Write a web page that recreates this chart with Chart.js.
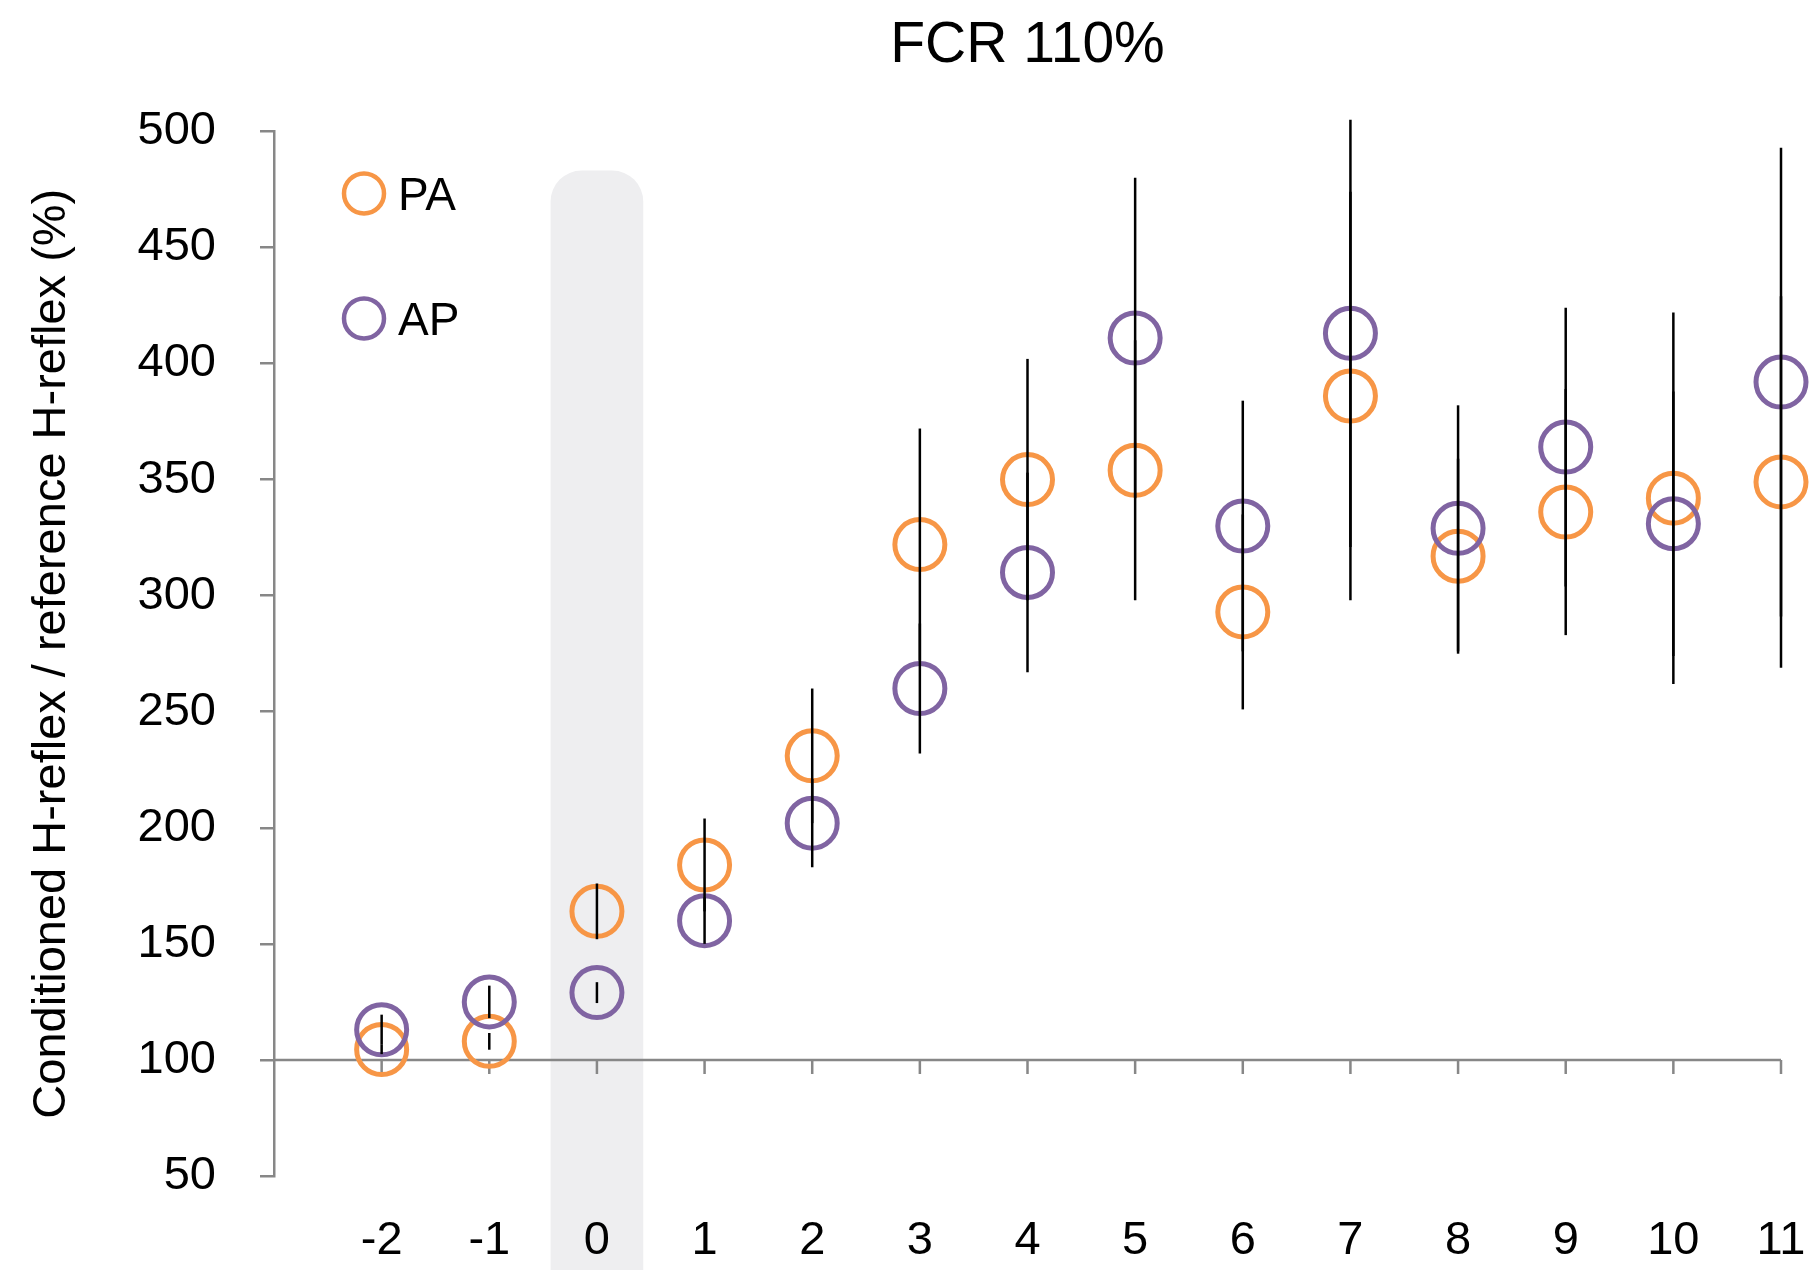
<!DOCTYPE html>
<html>
<head>
<meta charset="utf-8">
<title>FCR 110%</title>
<script src="https://cdn.jsdelivr.net/npm/chart.js@4.4.1/dist/chart.umd.min.js"></script>
<style>
  html, body { margin:0; padding:0; background:#fff; }
  #wrap { width:1816px; height:1270px; position:relative; }
</style>
</head>
<body>
<div id="wrap"><canvas id="chart"></canvas></div>
<script>
/* ---------- DATA ---------- */
const TITLE = "FCR 110%";
const Y_TITLE = "Conditioned H-reflex / reference H-reflex (%)";
const SERIES_NAMES = ["PA", "AP"];
const X_VALUES = [-2, -1, 0, 1, 2, 3, 4, 5, 6, 7, 8, 9, 10, 11];
const PA_MEAN = [104.5, 108, 164, 184, 231, 322, 350, 354, 293, 386, 317, 336, 342, 349];
const PA_ERR  = [2, 3.6, 12, 20, 29, 50, 52, 56, 42, 88, 42, 53, 80, 80];
const AP_MEAN = [113, 125, 129, 160, 202, 260, 310, 411, 330, 413, 329, 364, 331, 392];
const AP_ERR  = [6.5, 7, 4.5, 10, 19, 28, 43, 69, 54, 92, 53, 60, 57, 101];

const Y_MIN = 50, Y_MAX = 500, Y_STEP = 50;
const X_MIN = -3, X_MAX = 11;
const BASELINE = 100;                 // x axis crosses here
const SHADE_X = 0, SHADE_TOP = 483, SHADE_BOTTOM = -20;   // grey band at 0

/* ---------- STYLE ---------- */
const FONT = '"Liberation Sans", Arial, Helvetica, sans-serif';
const PA_COLOR = "#f79646";
const AP_COLOR = "#8064a2";
const AXIS_COLOR = "#878787";
const SHADE_COLOR = "#eeeef0";

Chart.defaults.font.family = FONT;
Chart.defaults.color = "#000";

/* ---------- plugins ---------- */
// x axis line at y = 100 with downward ticks, drawn right after the grey band
const baselinePlugin = {
  id: "baseline",
  afterDatasetDraw(chart, args){
    if(args.meta.type !== "bar") return;
    const {ctx} = chart;
    const x = chart.scales.x, y = chart.scales.y;
    const py = y.getPixelForValue(BASELINE);
    ctx.save();
    ctx.strokeStyle = AXIS_COLOR;
    ctx.lineWidth = 2.5;
    ctx.beginPath();
    ctx.moveTo(x.getPixelForValue(X_MIN), py);
    ctx.lineTo(x.getPixelForValue(X_MAX), py);
    X_VALUES.forEach(v=>{
      const px = x.getPixelForValue(v);
      ctx.moveTo(px, py);
      ctx.lineTo(px, py + 14);
    });
    ctx.stroke();
    ctx.restore();
  }
};

// vertical error bars, on top of markers
const errorBarPlugin = {
  id: "errorBars",
  afterDatasetsDraw(chart){
    const {ctx} = chart;
    const x = chart.scales.x, y = chart.scales.y;
    ctx.save();
    ctx.strokeStyle = "#000";
    ctx.lineWidth = 2.5;
    chart.data.datasets.forEach(ds=>{
      if(!ds.errors) return;
      ds.data.forEach((p,i)=>{
        const e = ds.errors[i];
        const px = x.getPixelForValue(p.x);
        ctx.beginPath();
        ctx.moveTo(px, y.getPixelForValue(p.y + e));
        ctx.lineTo(px, y.getPixelForValue(p.y - e));
        ctx.stroke();
      });
    });
    ctx.restore();
  }
};

// legend inside the plot, top-left, stacked
const innerLegendPlugin = {
  id: "innerLegend",
  afterDraw(chart){
    const {ctx, chartArea} = chart;
    const items = chart.data.datasets.filter(d=>d.type === "scatter");
    ctx.save();
    items.forEach((ds,i)=>{
      const cx = chartArea.left + 90;
      const cy = chartArea.top + 62 + i*125;
      ctx.beginPath();
      ctx.arc(cx, cy, 20, 0, Math.PI*2);
      ctx.strokeStyle = ds.pointBorderColor;
      ctx.lineWidth = 4.5;
      ctx.stroke();
      ctx.fillStyle = "#000";
      ctx.font = `46px ${FONT}`;
      ctx.textAlign = "left";
      ctx.textBaseline = "middle";
      ctx.fillText(ds.label, cx + 34, cy + 4);
    });
    ctx.restore();
  }
};

/* ---------- datasets ---------- */
function pointsOf(means){ return X_VALUES.map((x,i)=>({x:x, y:means[i]})); }

const shadeDataset = {
  type: "bar",
  label: "shade",
  data: [{x: SHADE_X, y: [SHADE_BOTTOM, SHADE_TOP]}],
  backgroundColor: SHADE_COLOR,
  borderWidth: 0,
  borderSkipped: false,
  barThickness: 92,
  borderRadius: {topLeft: 31, topRight: 31, bottomLeft: 0, bottomRight: 0},
  clip: false,
  order: 3
};

function scatterSet(name, means, errs, color, order){
  return {
    type: "scatter",
    label: name,
    data: pointsOf(means),
    errors: errs,
    pointBorderColor: color,
    pointBackgroundColor: "rgba(0,0,0,0)",
    borderColor: color,
    backgroundColor: "rgba(0,0,0,0)",
    pointRadius: 25,
    pointHoverRadius: 25,
    pointBorderWidth: 5,
    pointHoverBorderWidth: 5,
    showLine: false,
    clip: false,
    order: order
  };
}

/* ---------- chart ---------- */
new Chart(document.getElementById("chart").getContext("2d"), {
  type: "scatter",
  data: {
    datasets: [
      shadeDataset,
      scatterSet(SERIES_NAMES[0], PA_MEAN, PA_ERR, PA_COLOR, 2),
      scatterSet(SERIES_NAMES[1], AP_MEAN, AP_ERR, AP_COLOR, 1)
    ]
  },
  options: {
    responsive: true,
    maintainAspectRatio: false,
    animation: false,
    events: [],
    layout: { padding: {top: 0, right: 35, bottom: 0, left: 0} },
    plugins: {
      legend: { display: false },
      tooltip: { enabled: false },
      title: {
        display: true,
        text: TITLE,
        color: "#000",
        fullSize: false,
        font: { size: 57, weight: "normal", family: FONT },
        padding: { top: 12, bottom: 51 }
      }
    },
    scales: {
      x: {
        type: "linear",
        min: X_MIN, max: X_MAX,
        offset: false,
        grid: { display: false, drawTicks: false, offset: false },
        border: { display: false },
        ticks: {
          z: 1,   // labels over the grey band
          stepSize: 1,
          autoSkip: false,
          maxRotation: 0,
          padding: 37,
          color: "#000",
          font: { size: 47, family: FONT },
          callback: v => X_VALUES.includes(v) ? String(v) : ""
        },
        afterFit(s){ s.height = 94; s.paddingLeft = 0; s.paddingRight = 0; }
      },
      y: {
        min: Y_MIN, max: Y_MAX,
        grid: { drawOnChartArea: false, drawTicks: true, tickLength: 14, color: AXIS_COLOR, lineWidth: 2.5 },
        border: { color: AXIS_COLOR, width: 2.5 },
        ticks: { stepSize: Y_STEP, padding: 44, color: "#000", font: { size: 47, family: FONT } },
        title: {
          display: true,
          text: Y_TITLE,
          color: "#000",
          font: { size: 47, family: FONT },
          padding: { top: 24, bottom: 0 }
        },
        afterFit(s){ s.width = 274; s.paddingTop = 0; s.paddingBottom = 0; }
      }
    }
  },
  plugins: [baselinePlugin, errorBarPlugin, innerLegendPlugin]
});
</script>
</body>
</html>
